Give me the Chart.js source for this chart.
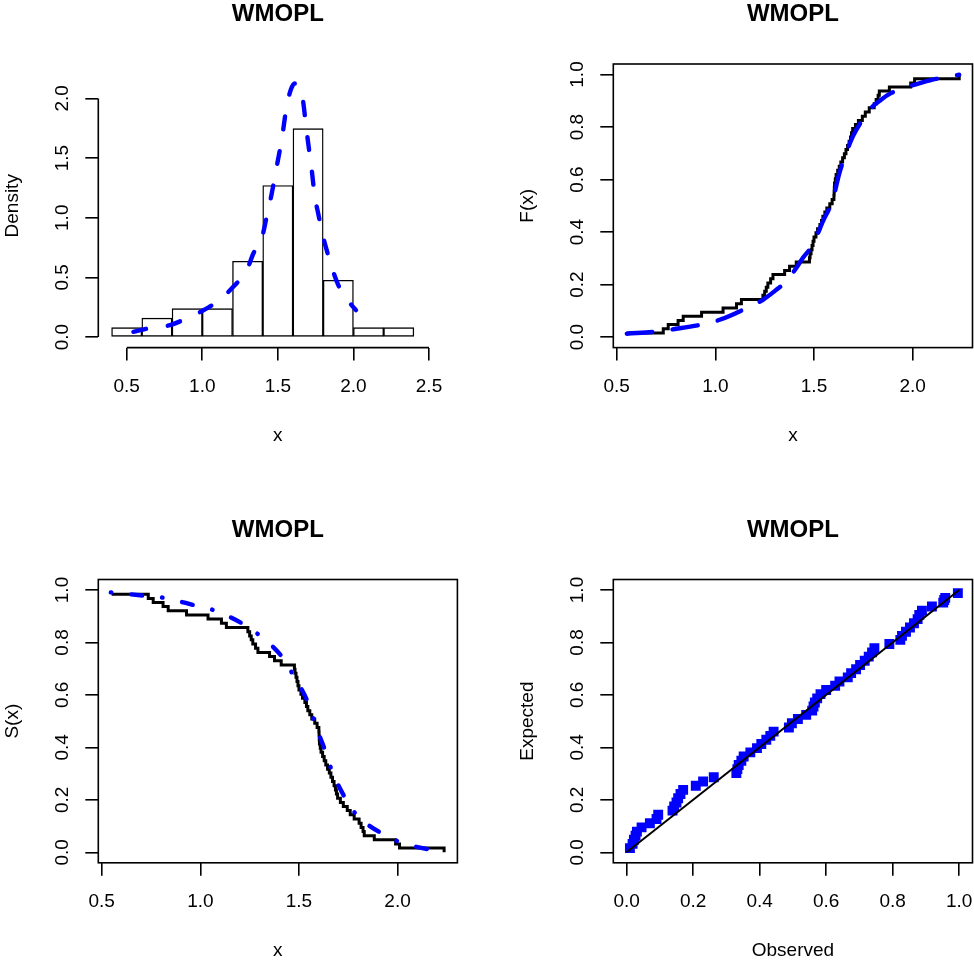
<!DOCTYPE html>
<html>
<head>
<meta charset="utf-8">
<title>WMOPL</title>
<script src="https://cdn.jsdelivr.net/npm/chart.js@4/dist/chart.umd.min.js"></script>
<style>
  html, body { margin: 0; padding: 0; background: #fff; }
  #page { position: relative; width: 974px; height: 969px; }
  canvas { position: absolute; }
</style>
</head>
<body>
<div id="page">
  <canvas id="c1"></canvas>
  <canvas id="c2"></canvas>
  <canvas id="c3"></canvas>
  <canvas id="c4"></canvas>
</div>
<script>
// ---- data ----
const histMids = [0.5, 0.7, 0.9, 1.1, 1.3, 1.5, 1.7, 1.9, 2.1, 2.3];
const histDensity = [0.079, 0.159, 0.238, 0.238, 0.635, 1.270, 1.746, 0.476, 0.079, 0.079];

const densX = [0.544, 0.643, 0.786, 0.897, 1.018, 1.106, 1.205, 1.294, 1.338, 1.393, 1.426, 1.459, 1.492, 1.525, 1.558,
  1.585, 1.612, 1.635, 1.664, 1.69, 1.724, 1.745, 1.767, 1.80, 1.823, 1.867, 1.90, 1.95, 1.988, 2.017];
const densY = [0.044, 0.073, 0.10, 0.157, 0.232, 0.304, 0.421, 0.561, 0.70, 0.827, 1.007, 1.20, 1.426, 1.65, 1.93,
  2.07, 2.125, 2.11, 2.0, 1.73, 1.40, 1.175, 1.036, 0.84, 0.73, 0.547, 0.436, 0.33, 0.268, 0.226];

// sorted sample (jump points of the step curves)
const sampleX = [0.55, 0.736, 0.761, 0.811, 0.837, 0.93, 1.039, 1.107, 1.132,
  1.241, 1.25, 1.258, 1.266, 1.28, 1.292, 1.351, 1.376,
  1.41, 1.477, 1.48, 1.485, 1.49, 1.495, 1.50, 1.51, 1.518, 1.53, 1.538, 1.545, 1.555, 1.565, 1.58, 1.592,
  1.601, 1.602, 1.603, 1.604, 1.608, 1.612, 1.62, 1.628, 1.636, 1.645, 1.654, 1.662, 1.67, 1.678, 1.685, 1.69,
  1.696, 1.71, 1.725, 1.745, 1.76, 1.78,
  1.805, 1.815, 1.825, 1.831, 1.882, 1.99, 2.01, 2.236];
const ecdfLevels = [0.016, 0.032, 0.048, 0.063, 0.079, 0.095, 0.111, 0.127, 0.143, 0.159,
  0.175, 0.190, 0.206, 0.222, 0.238, 0.254, 0.270, 0.286, 0.302, 0.317,
  0.333, 0.349, 0.365, 0.381, 0.397, 0.413, 0.429, 0.444, 0.460, 0.476,
  0.492, 0.508, 0.524, 0.540, 0.556, 0.571, 0.587, 0.603, 0.619, 0.635,
  0.651, 0.667, 0.683, 0.698, 0.714, 0.730, 0.746, 0.762, 0.778, 0.794,
  0.810, 0.825, 0.841, 0.857, 0.873, 0.889, 0.905, 0.921, 0.937, 0.952,
  0.968, 0.984, 1.000];
const survLevels = [0.984, 0.968, 0.952, 0.937, 0.921, 0.905, 0.889, 0.873, 0.857, 0.841,
  0.825, 0.810, 0.794, 0.778, 0.762, 0.746, 0.730, 0.714, 0.698, 0.683,
  0.667, 0.651, 0.635, 0.619, 0.603, 0.587, 0.571, 0.556, 0.540, 0.524,
  0.508, 0.492, 0.476, 0.460, 0.444, 0.429, 0.413, 0.397, 0.381, 0.365,
  0.349, 0.333, 0.317, 0.302, 0.286, 0.270, 0.254, 0.238, 0.222, 0.206,
  0.190, 0.175, 0.159, 0.143, 0.127, 0.111, 0.095, 0.079, 0.063, 0.048,
  0.032, 0.016, 0.000];

const cdfFitX = [0.551, 0.702, 0.787, 0.938, 1.022, 1.157, 1.241, 1.309, 1.359, 1.41, 1.443, 1.494, 1.545,
  1.595, 1.629, 1.663, 1.697, 1.747, 1.781, 1.84, 1.89, 1.983, 2.05, 2.118, 2.236];
const cdfFitY = [0.013, 0.021, 0.03, 0.049, 0.066, 0.110, 0.142, 0.18, 0.212, 0.263, 0.301, 0.352, 0.441,
  0.523, 0.625, 0.701, 0.765, 0.829, 0.866, 0.904, 0.929, 0.955, 0.97, 0.983, 0.999];

const survFitX = [0.546, 0.716, 0.809, 0.979, 1.064, 1.225, 1.298, 1.42, 1.468, 1.551, 1.578, 1.638, 1.667,
  1.745, 1.796, 1.934, 2.019, 2.185, 2.236];
const survFitY = [0.991, 0.978, 0.971, 0.940, 0.924, 0.867, 0.828, 0.74, 0.679, 0.562, 0.498, 0.377, 0.311,
  0.193, 0.140, 0.066, 0.037, 0.008, 0.004];

const ppObserved = [0.010, 0.018, 0.022, 0.027, 0.031, 0.045, 0.070, 0.090, 0.095, 0.138,
  0.143, 0.150, 0.155, 0.162, 0.170, 0.208, 0.230, 0.262, 0.330, 0.333,
  0.337, 0.345, 0.352, 0.372, 0.392, 0.405, 0.420, 0.432, 0.442, 0.488,
  0.497, 0.515, 0.540, 0.558, 0.562, 0.566, 0.573, 0.583, 0.600, 0.627,
  0.640, 0.665, 0.675, 0.690, 0.702, 0.716, 0.728, 0.738, 0.745, 0.790,
  0.823, 0.828, 0.840, 0.852, 0.864, 0.875, 0.880, 0.888, 0.918, 0.952,
  0.955, 0.958, 0.996];
const ppExpected = [0.016, 0.032, 0.048, 0.063, 0.079, 0.095, 0.111, 0.127, 0.143, 0.159,
  0.175, 0.190, 0.206, 0.222, 0.238, 0.254, 0.270, 0.286, 0.302, 0.317,
  0.333, 0.349, 0.365, 0.381, 0.397, 0.413, 0.429, 0.444, 0.460, 0.476,
  0.492, 0.508, 0.524, 0.540, 0.556, 0.571, 0.587, 0.603, 0.619, 0.635,
  0.651, 0.667, 0.683, 0.698, 0.714, 0.730, 0.746, 0.762, 0.778, 0.794,
  0.810, 0.825, 0.841, 0.857, 0.873, 0.889, 0.905, 0.921, 0.937, 0.952,
  0.962, 0.970, 0.988];
const diagX = [0, 1];
const diagY = [0, 1];

// tick labels
const histXTicks = [0.5, 1.0, 1.5, 2.0, 2.5];
const histYTicks = [0.0, 0.5, 1.0, 1.5, 2.0];
const xTicks = [0.5, 1.0, 1.5, 2.0];
const probTicks = [0.0, 0.2, 0.4, 0.6, 0.8, 1.0];

// ---- look ----
const FONT = '"Liberation Sans", Arial, Helvetica, sans-serif';
const BLUE = '#0000ff';
const YW = 97.4;   // left axis band
const XH = 99.4;   // bottom axis band
const TH = 63.8;   // title band
Chart.defaults.font.family = FONT;
Chart.defaults.color = '#000';

const pts = (xs, ys) => xs.map((x, i) => ({ x: x, y: ys[i] }));

const rAxes = {
  id: 'rAxes',
  afterDraw(chart, args, opts) {
    const { ctx, chartArea: a, scales } = chart;
    ctx.save();
    ctx.strokeStyle = '#000';
    ctx.lineWidth = 1.6;
    if (opts.box) {
      ctx.strokeRect(a.left, a.top, a.right - a.left, a.bottom - a.top);
    } else {
      const xs = opts.xTicks, ys = opts.yTicks;
      ctx.beginPath();
      ctx.moveTo(scales.x.getPixelForValue(xs[0]), a.bottom);
      ctx.lineTo(scales.x.getPixelForValue(xs[xs.length - 1]), a.bottom);
      ctx.moveTo(a.left, scales.y.getPixelForValue(ys[0]));
      ctx.lineTo(a.left, scales.y.getPixelForValue(ys[ys.length - 1]));
      ctx.stroke();
    }
    ctx.restore();
  }
};

function axisGrid() {
  return { display: true, drawOnChartArea: false, drawTicks: true, tickLength: 13, lineWidth: 1.6, color: '#000', offset: false };
}

function xScale(min, max, ticks, title) {
  return {
    type: 'linear', position: 'bottom', axis: 'x', min: min, max: max, offset: false,
    afterBuildTicks: s => { s.ticks = ticks.map(v => ({ value: v })); },
    afterFit: s => { s.height = XH; s.paddingLeft = 0; s.paddingRight = 0; },
    grid: axisGrid(),
    border: { display: false },
    ticks: { autoSkip: false, maxRotation: 0, minRotation: 0, padding: 14.7, color: '#000',
      font: { size: 19 }, callback: v => v.toFixed(1) },
    title: { display: true, text: title, color: '#000', font: { size: 19 }, padding: 0 }
  };
}

function yScale(min, max, ticks, title) {
  return {
    type: 'linear', position: 'left', axis: 'y', min: min, max: max,
    afterBuildTicks: s => { s.ticks = ticks.map(v => ({ value: v })); },
    afterFit: s => { s.width = YW; s.paddingTop = 0; s.paddingBottom = 0; },
    grid: axisGrid(),
    border: { display: false },
    ticks: { autoSkip: false, minRotation: 90, maxRotation: 90, crossAlign: 'center', padding: 9.8, color: '#000',
      font: { size: 19 }, callback: v => v.toFixed(1) },
    title: { display: true, text: title, color: '#000', font: { size: 19 }, padding: 0 }
  };
}

function titleScale(text) {
  return {
    type: 'linear', position: 'top', axis: 'x', min: 0, max: 1,
    afterFit: s => { s.height = TH; s.paddingLeft = 0; s.paddingRight = 0; },
    grid: { display: false, drawTicks: false },
    border: { display: false },
    ticks: { display: false },
    title: { display: true, text: text, color: '#000', font: { size: 24, weight: 'bold' }, padding: 0 }
  };
}

// canvas box and plot region, page pixels
function makePanel(id, box, area, type, datasets, scales, axesOpts) {
  const cv = document.getElementById(id);
  cv.width = box.w; cv.height = box.h;
  cv.style.left = box.x + 'px'; cv.style.top = box.y + 'px';
  cv.style.width = box.w + 'px'; cv.style.height = box.h + 'px';
  const padding = {
    left: area.L - box.x - YW,
    top: area.T - box.y - TH,
    right: box.x + box.w - area.R,
    bottom: box.y + box.h - area.B - XH
  };
  return new Chart(cv.getContext('2d'), {
    type: type,
    data: { datasets: datasets },
    options: {
      responsive: false,
      animation: false,
      events: [],
      layout: { padding: padding, autoPadding: false },
      scales: scales,
      plugins: { legend: { display: false }, tooltip: { enabled: false }, rAxes: axesOpts }
    },
    plugins: [rAxes]
  });
}

const lineBase = { pointRadius: 0, fill: false, xAxisID: 'x', yAxisID: 'y' };

// top left: histogram with fitted density
makePanel('c1', { x: 0, y: 0, w: 487, h: 484 }, { L: 98.3, R: 457.4, T: 64, B: 347.6 }, 'bar', [
  Object.assign({}, lineBase, {
    type: 'line', order: 0, data: pts(densX, densY),
    borderColor: BLUE, borderWidth: 4.4, borderDash: [13, 22], borderCapStyle: 'round',
    cubicInterpolationMode: 'monotone'
  }),
  {
    type: 'bar', order: 1, xAxisID: 'x', yAxisID: 'y',
    data: pts(histMids, histDensity),
    backgroundColor: '#fff', borderColor: '#000', borderWidth: 1.4, borderSkipped: false,
    barPercentage: 1, categoryPercentage: 1
  }
], {
  x: xScale(0.312, 2.688, histXTicks, 'x'),
  y: yScale(-0.088, 2.288, histYTicks, 'Density'),
  top: titleScale('WMOPL')
}, { box: false, xTicks: histXTicks, yTicks: histYTicks });

// top right: empirical vs fitted cdf
makePanel('c2', { x: 487, y: 0, w: 487, h: 484 }, { L: 613.3, R: 972.5, T: 64, B: 347.6 }, 'line', [
  Object.assign({}, lineBase, {
    order: 0, data: pts(cdfFitX, cdfFitY),
    borderColor: BLUE, borderWidth: 4.4, borderDash: [25.5, 20.5], borderCapStyle: 'round',
    cubicInterpolationMode: 'monotone'
  }),
  Object.assign({}, lineBase, {
    order: 1, data: pts(sampleX, ecdfLevels), stepped: 'before',
    borderColor: '#000', borderWidth: 3
  })
], {
  x: xScale(0.4826, 2.3034, xTicks, 'x'),
  y: yScale(-0.04, 1.04, probTicks, 'F(x)'),
  top: titleScale('WMOPL')
}, { box: true });

// bottom left: empirical vs fitted survival
makePanel('c3', { x: 0, y: 484, w: 487, h: 485 }, { L: 98.3, R: 457.4, T: 579.5, B: 862.8 }, 'line', [
  Object.assign({}, lineBase, {
    order: 0, data: pts(survFitX, survFitY),
    borderColor: BLUE, borderWidth: 4.4, borderDash: [0.5, 20, 11, 20], borderCapStyle: 'round',
    cubicInterpolationMode: 'monotone'
  }),
  Object.assign({}, lineBase, {
    order: 1, data: pts(sampleX, survLevels), stepped: 'before',
    borderColor: '#000', borderWidth: 3
  })
], {
  x: xScale(0.4826, 2.3034, xTicks, 'x'),
  y: yScale(-0.04, 1.04, probTicks, 'S(x)'),
  top: titleScale('WMOPL')
}, { box: true });

// bottom right: P-P plot
makePanel('c4', { x: 487, y: 484, w: 487, h: 485 }, { L: 613.3, R: 972.5, T: 579.5, B: 862.8 }, 'scatter', [
  Object.assign({}, lineBase, {
    type: 'line', order: 0, data: pts(diagX, diagY), showLine: true,
    borderColor: '#000', borderWidth: 2
  }),
  {
    type: 'scatter', order: 1, xAxisID: 'x', yAxisID: 'y',
    data: pts(ppObserved, ppExpected),
    pointStyle: 'rect', pointRadius: 7, pointBorderWidth: 0,
    backgroundColor: BLUE, borderColor: BLUE
  }
], {
  x: xScale(-0.04, 1.04, probTicks, 'Observed'),
  y: yScale(-0.04, 1.04, probTicks, 'Expected'),
  top: titleScale('WMOPL')
}, { box: true });
</script>
</body>
</html>
